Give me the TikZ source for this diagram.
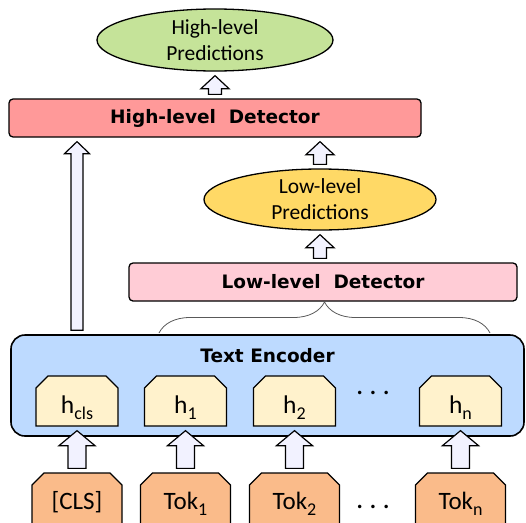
\documentclass[tikz,border=0pt]{standalone}
\usepackage{fontspec}
\setmainfont{Carlito}
\newfontfamily\verdfont{DejaVu Sans}
\usepackage{tikz}
\usepackage{xcolor}
\usetikzlibrary{positioning,calc,shapes.geometric,shapes.misc,decorations.pathreplacing}

\definecolor{hpgreen}{RGB}{197,227,153}
\definecolor{hdred}{RGB}{255,153,153}
\definecolor{lpyellow}{RGB}{255,217,102}
\definecolor{ldpink}{RGB}{255,204,214}
\definecolor{teblue}{RGB}{189,218,255}
\definecolor{hcream}{RGB}{255,242,204}
\definecolor{tokorange}{RGB}{250,187,138}
\definecolor{arrowfill}{RGB}{242,242,255}

\newcommand\tsub[1]{\raisebox{-0.24em}{\fontsize{18}{18}\selectfont #1}}
\newcommand\wdots{.\kern6pt.\kern6pt.}

\begin{document}
\begin{tikzpicture}[x=1pt, y=-1pt,
  bold/.style={font=\verdfont\bfseries\fontsize{18.5}{22}\selectfont},
  pred/.style={ellipse, draw, line width=1.3pt, inner sep=0pt, align=center, font=\fontsize{21.5}{26}\selectfont},
  detector/.style={draw, line width=1.3pt, rounded corners=4pt, inner sep=0pt, minimum height=38pt, bold},
  hbox/.style={chamfered rectangle, chamfered rectangle corners={north west,north east}, chamfered rectangle xsep=6pt, chamfered rectangle ysep=6pt, draw, line width=1.3pt, fill=hcream, minimum width=82pt, minimum height=50pt, inner sep=0pt, text height=26pt, text depth=2pt, font=\fontsize{25.5}{30}\selectfont},
  tokbox/.style={hbox, fill=tokorange, minimum width=90pt, minimum height=61pt, text height=17pt, text depth=6pt, font=\fontsize{25}{30}\selectfont},
  fatup/.style args={#1/#2/#3}{draw, line width=1.2pt, fill=arrowfill, line join=miter, to path={
    let \p1=(\tikztostart), \p2=(\tikztotarget) in
    (\x2-#1pt,\y1+4pt) -- (\x2-#1pt,\y2-4pt-#3pt) -- (\x2-#2pt,\y2-4pt-#3pt) -- (\x2,\y2-4pt)
    -- (\x2+#2pt,\y2-4pt-#3pt) -- (\x2+#1pt,\y2-4pt-#3pt) -- (\x2+#1pt,\y1+4pt) -- cycle}},
  brace/.style={decorate, decoration={brace, amplitude=31pt}, draw=black!65, line width=0.8pt},
  dots/.style={inner sep=0pt, font=\fontsize{29}{30}\selectfont}
]
\useasboundingbox (0,0) rectangle (526,522);
\clip (0,0) rectangle (526,522);

% High level
\node[pred, fill=hpgreen, minimum width=236pt, minimum height=62pt] (hp) at (215,40) {High-level\\Predictions};
\node[detector, fill=hdred, minimum width=412pt] (hd) at (215,118) {High-level\ \ Detector};

% Low level
\node[pred, fill=lpyellow, minimum width=232pt, minimum height=61pt] (lp) at (320,199.5) {Low-level\\Predictions};
\node[detector, fill=ldpink, minimum width=388pt] (ld) at (323,282) {Low-level\ \ Detector};

% Text encoder
\node[draw, line width=1.6pt, fill=teblue, rounded corners=14pt, minimum width=513pt, minimum height=101pt] (te) at (267.5,385.5) {};
\node[bold] (tetitle) at ([yshift=-21pt]te.north) {Text Encoder};
\node[hbox] (hcls) at (77,401) {h\tsub{cls}};
\node[hbox] (h1) at (185.5,401) {h\tsub{1}};
\node[hbox] (h2) at (294.5,401) {h\tsub{2}};
\node[hbox] (hn) at (460.5,401) {h\tsub{n}};
\node[dots] (hdots) at (373,393) {\wdots};

% Tokens
\node[tokbox] (tcls) at (77,503.5) {[CLS]};
\node[tokbox] (t1) at (185.5,503.5) {Tok\tsub{1}};
\node[tokbox] (t2) at (294.5,503.5) {Tok\tsub{2}};
\node[tokbox] (tn) at (460.5,503.5) {Tok\tsub{n}};
\node[dots] (tdots) at (373,507) {\wdots};

% Brace
\coordinate (bl) at (159,333);
\coordinate (br) at (490,333);
\draw[brace] (bl) -- (br);

% Arrows
\draw[fatup=6.5/14/13] (hd.north) to (hp.south);
\draw[fatup=6.5/14/13] (lp.north) to (lp |- hd.south);
\draw[fatup=6.5/14/13] (lp |- ld.north) to (lp.south);
\draw[fatup=6/12.5/12] (hcls |- te.north) to (hcls |- hd.south);
\draw[fatup=9/18/15] (tcls.north) to (hcls.south);
\draw[fatup=9/18/15] (t1.north) to (h1.south);
\draw[fatup=9/18/15] (t2.north) to (h2.south);
\draw[fatup=9/18/15] (tn.north) to (hn.south);
\end{tikzpicture}
\end{document}
